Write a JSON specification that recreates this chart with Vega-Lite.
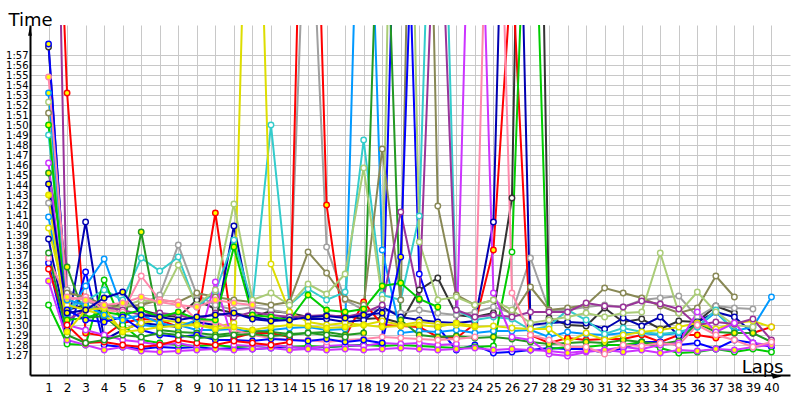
{
"$schema":"https://vega.github.io/schema/vega-lite/v6.json",
"width":760,"height":350,
"autosize":{"type":"none"},
"padding":{"left":30,"top":25,"right":10,"bottom":25},
"background":"white",
"config":{"view":{"stroke":null},"axis":{"labelFont":"DejaVu Sans","titleFont":"DejaVu Sans"}},
"datasets":{"laps":[
{"d":"BLK","l":1,"t":117.8},{"d":"BLK","l":2,"t":91.5},{"d":"BLK","l":3,"t":92},{"d":"BLK","l":4,"t":91.2},{"d":"BLK","l":5,"t":92.3},{"d":"BLK","l":6,"t":91.5},{"d":"BLK","l":7,"t":91},{"d":"BLK","l":8,"t":90.8},{"d":"BLK","l":9,"t":92.5},{"d":"BLK","l":10,"t":91.6},{"d":"BLK","l":11,"t":91.2},{"d":"BLK","l":12,"t":90.8},{"d":"BLK","l":13,"t":91.4},{"d":"BLK","l":14,"t":91.2},{"d":"BLK","l":15,"t":90.8},{"d":"BLK","l":16,"t":90.9},{"d":"BLK","l":17,"t":90.9},{"d":"BLK","l":18,"t":90.6},{"d":"BLK","l":19,"t":90.7},{"d":"BLK","l":20,"t":90.2},{"d":"BLK","l":21,"t":93.5},{"d":"BLK","l":22,"t":94.7},{"d":"BLK","l":23,"t":91.0},{"d":"BLK","l":24,"t":90.8},{"d":"BLK","l":25,"t":91.2},{"d":"BLK","l":26,"t":102.7},{"d":"BLK","l":27,"t":200},{"d":"BLK","l":28,"t":90.7},{"d":"BLK","l":29,"t":90.0},{"d":"BLK","l":30,"t":89.9},{"d":"BLK","l":31,"t":91.7},{"d":"BLK","l":32,"t":90.3},{"d":"BLK","l":33,"t":90.6},{"d":"BLK","l":34,"t":89.6},{"d":"BLK","l":35,"t":90.4},{"d":"BLK","l":36,"t":90.3},{"d":"BLK","l":37,"t":91.9},{"d":"BLK","l":38,"t":91.2},
{"d":"GRY","l":1,"t":102.2},{"d":"GRY","l":2,"t":93.5},{"d":"GRY","l":3,"t":92.5},{"d":"GRY","l":4,"t":91.5},{"d":"GRY","l":5,"t":91.8},{"d":"GRY","l":6,"t":92},{"d":"GRY","l":7,"t":93},{"d":"GRY","l":8,"t":98},{"d":"GRY","l":9,"t":93},{"d":"GRY","l":10,"t":92},{"d":"GRY","l":11,"t":91.5},{"d":"GRY","l":12,"t":91.8},{"d":"GRY","l":13,"t":91.5},{"d":"GRY","l":14,"t":91.2},{"d":"GRY","l":15,"t":140},{"d":"GRY","l":16,"t":97.8},{"d":"GRY","l":17,"t":92.5},{"d":"GRY","l":18,"t":91.5},{"d":"GRY","l":19,"t":91.5},{"d":"GRY","l":20,"t":91.2},{"d":"GRY","l":21,"t":91.5},{"d":"GRY","l":22,"t":91.2},{"d":"GRY","l":23,"t":91.0},{"d":"GRY","l":24,"t":91.3},{"d":"GRY","l":25,"t":91.8},{"d":"GRY","l":26,"t":91.2},{"d":"GRY","l":27,"t":96.7},{"d":"GRY","l":28,"t":91.5},{"d":"GRY","l":29,"t":91.5},{"d":"GRY","l":30,"t":91.8},{"d":"GRY","l":31,"t":92},{"d":"GRY","l":32,"t":91.8},{"d":"GRY","l":33,"t":92.5},{"d":"GRY","l":34,"t":92.7},{"d":"GRY","l":35,"t":92.9},{"d":"GRY","l":36,"t":90.8},{"d":"GRY","l":37,"t":91.9},{"d":"GRY","l":38,"t":91.7},{"d":"GRY","l":39,"t":91.6},
{"d":"RDY","l":1,"t":160},{"d":"RDY","l":2,"t":113.2},{"d":"RDY","l":3,"t":89.2},{"d":"RDY","l":4,"t":88.9},{"d":"RDY","l":5,"t":90.2},{"d":"RDY","l":6,"t":90.6},{"d":"RDY","l":7,"t":90.5},{"d":"RDY","l":8,"t":89.8},{"d":"RDY","l":9,"t":90.2},{"d":"RDY","l":10,"t":101.2},{"d":"RDY","l":11,"t":88.7},{"d":"RDY","l":12,"t":89.2},{"d":"RDY","l":13,"t":89.2},{"d":"RDY","l":14,"t":88.8},{"d":"RDY","l":15,"t":165},{"d":"RDY","l":16,"t":102},{"d":"RDY","l":17,"t":88.8},{"d":"RDY","l":18,"t":92.3},{"d":"RDY","l":19,"t":90.0},{"d":"RDY","l":20,"t":89.9},{"d":"RDY","l":21,"t":89.8},{"d":"RDY","l":22,"t":88.8},{"d":"RDY","l":23,"t":88.7},{"d":"RDY","l":24,"t":90.1},{"d":"RDY","l":25,"t":97.5},{"d":"RDY","l":26,"t":126},{"d":"RDY","l":27,"t":89.0},{"d":"RDY","l":28,"t":88.2},{"d":"RDY","l":29,"t":88.7},{"d":"RDY","l":30,"t":88.5},{"d":"RDY","l":31,"t":88.6},{"d":"RDY","l":32,"t":88.6},{"d":"RDY","l":33,"t":89.0},{"d":"RDY","l":34,"t":88.3},{"d":"RDY","l":35,"t":89.0},{"d":"RDY","l":36,"t":89.0},{"d":"RDY","l":37,"t":88.7},{"d":"RDY","l":38,"t":89.2},{"d":"RDY","l":39,"t":89.2},{"d":"RDY","l":40,"t":89.8},
{"d":"NVY","l":1,"t":98.6},{"d":"NVY","l":2,"t":89.5},{"d":"NVY","l":3,"t":100.3},{"d":"NVY","l":4,"t":88.5},{"d":"NVY","l":5,"t":89.5},{"d":"NVY","l":6,"t":90.2},{"d":"NVY","l":7,"t":90.0},{"d":"NVY","l":8,"t":89.8},{"d":"NVY","l":9,"t":90.3},{"d":"NVY","l":10,"t":90.0},{"d":"NVY","l":11,"t":99.9},{"d":"NVY","l":12,"t":90.8},{"d":"NVY","l":13,"t":90.5},{"d":"NVY","l":14,"t":90.8},{"d":"NVY","l":15,"t":90.6},{"d":"NVY","l":16,"t":90.6},{"d":"NVY","l":17,"t":90.3},{"d":"NVY","l":18,"t":90.5},{"d":"NVY","l":19,"t":91.8},{"d":"NVY","l":20,"t":90.8},{"d":"NVY","l":21,"t":90.5},{"d":"NVY","l":22,"t":90.3},{"d":"NVY","l":23,"t":90.2},{"d":"NVY","l":24,"t":90.4},{"d":"NVY","l":25,"t":100.3},{"d":"NVY","l":26,"t":170},{"d":"NVY","l":27,"t":90.0},{"d":"NVY","l":28,"t":90.2},{"d":"NVY","l":29,"t":90.3},{"d":"NVY","l":30,"t":90.2},{"d":"NVY","l":31,"t":89.6},{"d":"NVY","l":32,"t":90.7},{"d":"NVY","l":33,"t":89.9},{"d":"NVY","l":34,"t":90.8},{"d":"NVY","l":35,"t":88.9},{"d":"NVY","l":36,"t":90.3},{"d":"NVY","l":37,"t":91.3},{"d":"NVY","l":38,"t":90.8},{"d":"NVY","l":39,"t":89.2},
{"d":"BLW","l":1,"t":96.2},{"d":"BLW","l":2,"t":88.3},{"d":"BLW","l":3,"t":95.3},{"d":"BLW","l":4,"t":88.0},{"d":"BLW","l":5,"t":87.8},{"d":"BLW","l":6,"t":87.6},{"d":"BLW","l":7,"t":87.8},{"d":"BLW","l":8,"t":87.7},{"d":"BLW","l":9,"t":87.8},{"d":"BLW","l":10,"t":87.6},{"d":"BLW","l":11,"t":87.7},{"d":"BLW","l":12,"t":87.6},{"d":"BLW","l":13,"t":87.7},{"d":"BLW","l":14,"t":87.8},{"d":"BLW","l":15,"t":87.7},{"d":"BLW","l":16,"t":87.8},{"d":"BLW","l":17,"t":87.9},{"d":"BLW","l":18,"t":88.0},{"d":"BLW","l":19,"t":88.0},{"d":"BLW","l":20,"t":155},{"d":"BLW","l":21,"t":95.1},{"d":"BLW","l":22,"t":89.8},{"d":"BLW","l":23,"t":87.5},{"d":"BLW","l":24,"t":88.0},{"d":"BLW","l":25,"t":87.2},{"d":"BLW","l":26,"t":87.3},{"d":"BLW","l":27,"t":87.5},{"d":"BLW","l":28,"t":87.7},{"d":"BLW","l":29,"t":87.6},{"d":"BLW","l":30,"t":87.6},{"d":"BLW","l":31,"t":87.2},{"d":"BLW","l":32,"t":87.7},{"d":"BLW","l":33,"t":88.3},{"d":"BLW","l":34,"t":88.3},{"d":"BLW","l":35,"t":88.0},{"d":"BLW","l":36,"t":88.2},{"d":"BLW","l":37,"t":87.6},{"d":"BLW","l":38,"t":88.5},{"d":"BLW","l":39,"t":88.2},{"d":"BLW","l":40,"t":87.8},
{"d":"LBW","l":1,"t":100.8},{"d":"LBW","l":2,"t":91.0},{"d":"LBW","l":3,"t":93.9},{"d":"LBW","l":4,"t":96.6},{"d":"LBW","l":5,"t":91.5},{"d":"LBW","l":6,"t":90.0},{"d":"LBW","l":7,"t":89.8},{"d":"LBW","l":8,"t":90.0},{"d":"LBW","l":9,"t":89.5},{"d":"LBW","l":10,"t":89.5},{"d":"LBW","l":11,"t":89.6},{"d":"LBW","l":12,"t":89.3},{"d":"LBW","l":13,"t":89.5},{"d":"LBW","l":14,"t":89.7},{"d":"LBW","l":15,"t":89.8},{"d":"LBW","l":16,"t":89.5},{"d":"LBW","l":17,"t":89.6},{"d":"LBW","l":18,"t":155},{"d":"LBW","l":19,"t":97.5},{"d":"LBW","l":20,"t":89.2},{"d":"LBW","l":21,"t":89.4},{"d":"LBW","l":22,"t":89.3},{"d":"LBW","l":23,"t":89.5},{"d":"LBW","l":24,"t":89.2},{"d":"LBW","l":25,"t":89.4},{"d":"LBW","l":26,"t":89.4},{"d":"LBW","l":27,"t":89.5},{"d":"LBW","l":28,"t":88.8},{"d":"LBW","l":29,"t":89.3},{"d":"LBW","l":30,"t":89.1},{"d":"LBW","l":31,"t":89.0},{"d":"LBW","l":32,"t":89.2},{"d":"LBW","l":33,"t":89.2},{"d":"LBW","l":34,"t":89.0},{"d":"LBW","l":35,"t":89.2},{"d":"LBW","l":36,"t":89.8},{"d":"LBW","l":37,"t":91.3},{"d":"LBW","l":38,"t":89.4},{"d":"LBW","l":39,"t":89.8},{"d":"LBW","l":40,"t":92.8},
{"d":"CYN","l":1,"t":109},{"d":"CYN","l":2,"t":91.8},{"d":"CYN","l":3,"t":92.4},{"d":"CYN","l":4,"t":93.5},{"d":"CYN","l":5,"t":92.5},{"d":"CYN","l":6,"t":96.7},{"d":"CYN","l":7,"t":95.4},{"d":"CYN","l":8,"t":96.8},{"d":"CYN","l":9,"t":91.8},{"d":"CYN","l":10,"t":93.3},{"d":"CYN","l":11,"t":98.5},{"d":"CYN","l":12,"t":92.0},{"d":"CYN","l":13,"t":110},{"d":"CYN","l":14,"t":92.0},{"d":"CYN","l":15,"t":93.6},{"d":"CYN","l":16,"t":92.5},{"d":"CYN","l":17,"t":93.3},{"d":"CYN","l":18,"t":108.5},{"d":"CYN","l":19,"t":93.0},{"d":"CYN","l":20,"t":92.5},{"d":"CYN","l":21,"t":100.9},{"d":"CYN","l":22,"t":160},{"d":"CYN","l":23,"t":91.5},{"d":"CYN","l":24,"t":90.5},{"d":"CYN","l":25,"t":90.8},{"d":"CYN","l":26,"t":90.6},{"d":"CYN","l":27,"t":89.5},{"d":"CYN","l":28,"t":89.9},{"d":"CYN","l":29,"t":91.5},{"d":"CYN","l":30,"t":90.5},{"d":"CYN","l":31,"t":89.1},{"d":"CYN","l":32,"t":89.7},{"d":"CYN","l":33,"t":89.3},{"d":"CYN","l":34,"t":89.1},{"d":"CYN","l":35,"t":89.3},{"d":"CYN","l":36,"t":89.8},{"d":"CYN","l":37,"t":91.5},{"d":"CYN","l":38,"t":89.3},
{"d":"GRW","l":1,"t":92.0},{"d":"GRW","l":2,"t":88.1},{"d":"GRW","l":3,"t":88.0},{"d":"GRW","l":4,"t":94.5},{"d":"GRW","l":5,"t":90.0},{"d":"GRW","l":6,"t":88.5},{"d":"GRW","l":7,"t":88.2},{"d":"GRW","l":8,"t":88.0},{"d":"GRW","l":9,"t":87.9},{"d":"GRW","l":10,"t":88.0},{"d":"GRW","l":11,"t":87.8},{"d":"GRW","l":12,"t":87.9},{"d":"GRW","l":13,"t":88.0},{"d":"GRW","l":14,"t":87.8},{"d":"GRW","l":15,"t":87.9},{"d":"GRW","l":16,"t":87.8},{"d":"GRW","l":17,"t":87.9},{"d":"GRW","l":18,"t":88.0},{"d":"GRW","l":19,"t":87.9},{"d":"GRW","l":20,"t":88.0},{"d":"GRW","l":21,"t":87.9},{"d":"GRW","l":22,"t":87.8},{"d":"GRW","l":23,"t":87.7},{"d":"GRW","l":24,"t":87.8},{"d":"GRW","l":25,"t":87.9},{"d":"GRW","l":26,"t":97.3},{"d":"GRW","l":27,"t":148},{"d":"GRW","l":28,"t":87.6},{"d":"GRW","l":29,"t":87.8},{"d":"GRW","l":30,"t":87.8},{"d":"GRW","l":31,"t":88.0},{"d":"GRW","l":32,"t":88.0},{"d":"GRW","l":33,"t":88.3},{"d":"GRW","l":34,"t":87.7},{"d":"GRW","l":35,"t":87.2},{"d":"GRW","l":36,"t":87.3},{"d":"GRW","l":37,"t":87.6},{"d":"GRW","l":38,"t":87.3},{"d":"GRW","l":39,"t":87.6},{"d":"GRW","l":40,"t":87.3},
{"d":"DGY","l":1,"t":105.2},{"d":"DGY","l":2,"t":95.8},{"d":"DGY","l":3,"t":90.7},{"d":"DGY","l":4,"t":90.9},{"d":"DGY","l":5,"t":89.3},{"d":"DGY","l":6,"t":99.3},{"d":"DGY","l":7,"t":89.5},{"d":"DGY","l":8,"t":89.3},{"d":"DGY","l":9,"t":89.2},{"d":"DGY","l":10,"t":89.0},{"d":"DGY","l":11,"t":89.2},{"d":"DGY","l":12,"t":89.4},{"d":"DGY","l":13,"t":89.3},{"d":"DGY","l":14,"t":89.1},{"d":"DGY","l":15,"t":89.2},{"d":"DGY","l":16,"t":89.3},{"d":"DGY","l":17,"t":89.0},{"d":"DGY","l":18,"t":89.2},{"d":"DGY","l":19,"t":145},{"d":"DGY","l":20,"t":90.5},{"d":"DGY","l":21,"t":89.0},{"d":"DGY","l":22,"t":88.8},{"d":"DGY","l":23,"t":88.9},{"d":"DGY","l":24,"t":88.7},{"d":"DGY","l":25,"t":88.8},{"d":"DGY","l":26,"t":88.6},{"d":"DGY","l":27,"t":88.3},{"d":"DGY","l":28,"t":88.1},{"d":"DGY","l":29,"t":88.2},{"d":"DGY","l":30,"t":88.3},{"d":"DGY","l":31,"t":88.2},{"d":"DGY","l":32,"t":88.5},{"d":"DGY","l":33,"t":88.3},{"d":"DGY","l":34,"t":88.1},{"d":"DGY","l":35,"t":88.4},{"d":"DGY","l":36,"t":90.2},{"d":"DGY","l":37,"t":89.3},{"d":"DGY","l":38,"t":89.2},{"d":"DGY","l":39,"t":89.2},{"d":"DGY","l":40,"t":88.3},
{"d":"YLW","l":1,"t":99.7},{"d":"YLW","l":2,"t":92.0},{"d":"YLW","l":3,"t":91.5},{"d":"YLW","l":4,"t":91.0},{"d":"YLW","l":5,"t":89.5},{"d":"YLW","l":6,"t":90.2},{"d":"YLW","l":7,"t":90.5},{"d":"YLW","l":8,"t":90.3},{"d":"YLW","l":9,"t":90.0},{"d":"YLW","l":10,"t":89.8},{"d":"YLW","l":11,"t":90.2},{"d":"YLW","l":12,"t":160},{"d":"YLW","l":13,"t":96.1},{"d":"YLW","l":14,"t":91.3},{"d":"YLW","l":15,"t":90.3},{"d":"YLW","l":16,"t":90.0},{"d":"YLW","l":17,"t":90.2},{"d":"YLW","l":18,"t":90.0},{"d":"YLW","l":19,"t":90.4},{"d":"YLW","l":20,"t":90.0},{"d":"YLW","l":21,"t":90.3},{"d":"YLW","l":22,"t":90.1},{"d":"YLW","l":23,"t":90.0},{"d":"YLW","l":24,"t":89.8},{"d":"YLW","l":25,"t":89.9},{"d":"YLW","l":26,"t":89.7},{"d":"YLW","l":27,"t":89.6},{"d":"YLW","l":28,"t":89.6},{"d":"YLW","l":29,"t":88.3},{"d":"YLW","l":30,"t":89.2},{"d":"YLW","l":31,"t":88.5},{"d":"YLW","l":32,"t":89.0},{"d":"YLW","l":33,"t":89.3},{"d":"YLW","l":34,"t":89.5},{"d":"YLW","l":35,"t":89.8},{"d":"YLW","l":36,"t":90.2},{"d":"YLW","l":37,"t":89.6},{"d":"YLW","l":38,"t":90.2},{"d":"YLW","l":39,"t":90.4},{"d":"YLW","l":40,"t":89.8},
{"d":"OLV","l":1,"t":111.2},{"d":"OLV","l":2,"t":93.2},{"d":"OLV","l":3,"t":92.8},{"d":"OLV","l":4,"t":92.0},{"d":"OLV","l":5,"t":91.8},{"d":"OLV","l":6,"t":92.0},{"d":"OLV","l":7,"t":92.5},{"d":"OLV","l":8,"t":92.3},{"d":"OLV","l":9,"t":93.2},{"d":"OLV","l":10,"t":92.8},{"d":"OLV","l":11,"t":92.5},{"d":"OLV","l":12,"t":92.3},{"d":"OLV","l":13,"t":92.0},{"d":"OLV","l":14,"t":92.3},{"d":"OLV","l":15,"t":97.3},{"d":"OLV","l":16,"t":95.2},{"d":"OLV","l":17,"t":92.6},{"d":"OLV","l":18,"t":92.0},{"d":"OLV","l":19,"t":107.6},{"d":"OLV","l":20,"t":92.5},{"d":"OLV","l":21,"t":185},{"d":"OLV","l":22,"t":101.9},{"d":"OLV","l":23,"t":93.0},{"d":"OLV","l":24,"t":92.0},{"d":"OLV","l":25,"t":92.5},{"d":"OLV","l":26,"t":91.0},{"d":"OLV","l":27,"t":93.8},{"d":"OLV","l":28,"t":91.5},{"d":"OLV","l":29,"t":91.7},{"d":"OLV","l":30,"t":92.0},{"d":"OLV","l":31,"t":93.7},{"d":"OLV","l":32,"t":93.2},{"d":"OLV","l":33,"t":92.7},{"d":"OLV","l":34,"t":91.9},{"d":"OLV","l":35,"t":91.2},{"d":"OLV","l":36,"t":91.7},{"d":"OLV","l":37,"t":94.9},{"d":"OLV","l":38,"t":92.8},
{"d":"LOL","l":1,"t":112.3},{"d":"LOL","l":2,"t":92.5},{"d":"LOL","l":3,"t":92.0},{"d":"LOL","l":4,"t":91.5},{"d":"LOL","l":5,"t":91.8},{"d":"LOL","l":6,"t":92.5},{"d":"LOL","l":7,"t":92.3},{"d":"LOL","l":8,"t":96.0},{"d":"LOL","l":9,"t":92.0},{"d":"LOL","l":10,"t":93.5},{"d":"LOL","l":11,"t":102.1},{"d":"LOL","l":12,"t":92.5},{"d":"LOL","l":13,"t":93.2},{"d":"LOL","l":14,"t":92.0},{"d":"LOL","l":15,"t":94.1},{"d":"LOL","l":16,"t":93.1},{"d":"LOL","l":17,"t":95.1},{"d":"LOL","l":18,"t":105.7},{"d":"LOL","l":19,"t":92.6},{"d":"LOL","l":20,"t":190},{"d":"LOL","l":21,"t":98.3},{"d":"LOL","l":22,"t":92.5},{"d":"LOL","l":23,"t":92.8},{"d":"LOL","l":24,"t":92.0},{"d":"LOL","l":25,"t":92.5},{"d":"LOL","l":26,"t":91.5},{"d":"LOL","l":27,"t":90.2},{"d":"LOL","l":28,"t":90.5},{"d":"LOL","l":29,"t":90.8},{"d":"LOL","l":30,"t":91.2},{"d":"LOL","l":31,"t":90.8},{"d":"LOL","l":32,"t":91.2},{"d":"LOL","l":33,"t":91.3},{"d":"LOL","l":34,"t":97.2},{"d":"LOL","l":35,"t":91.2},{"d":"LOL","l":36,"t":93.3},{"d":"LOL","l":37,"t":91.3},{"d":"LOL","l":38,"t":90.0},{"d":"LOL","l":39,"t":89.8},
{"d":"PRP","l":1,"t":180},{"d":"PRP","l":2,"t":90.5},{"d":"PRP","l":3,"t":91.5},{"d":"PRP","l":4,"t":91.8},{"d":"PRP","l":5,"t":91.5},{"d":"PRP","l":6,"t":91.0},{"d":"PRP","l":7,"t":91.2},{"d":"PRP","l":8,"t":91.0},{"d":"PRP","l":9,"t":90.5},{"d":"PRP","l":10,"t":91.2},{"d":"PRP","l":11,"t":90.8},{"d":"PRP","l":12,"t":91.3},{"d":"PRP","l":13,"t":91.0},{"d":"PRP","l":14,"t":90.8},{"d":"PRP","l":15,"t":90.9},{"d":"PRP","l":16,"t":91.0},{"d":"PRP","l":17,"t":90.8},{"d":"PRP","l":18,"t":91.2},{"d":"PRP","l":19,"t":92.0},{"d":"PRP","l":20,"t":101.3},{"d":"PRP","l":21,"t":92.5},{"d":"PRP","l":22,"t":140},{"d":"PRP","l":23,"t":91.5},{"d":"PRP","l":24,"t":90.8},{"d":"PRP","l":25,"t":91.0},{"d":"PRP","l":26,"t":90.8},{"d":"PRP","l":27,"t":91.3},{"d":"PRP","l":28,"t":91.3},{"d":"PRP","l":29,"t":91.3},{"d":"PRP","l":30,"t":92.2},{"d":"PRP","l":31,"t":91.9},{"d":"PRP","l":32,"t":91.8},{"d":"PRP","l":33,"t":92.4},{"d":"PRP","l":34,"t":92.1},{"d":"PRP","l":35,"t":91.6},{"d":"PRP","l":36,"t":90.0},{"d":"PRP","l":37,"t":90.3},{"d":"PRP","l":38,"t":90.1},{"d":"PRP","l":39,"t":90.6},{"d":"PRP","l":40,"t":88.5},
{"d":"MGW","l":1,"t":106.2},{"d":"MGW","l":2,"t":90.0},{"d":"MGW","l":3,"t":89.5},{"d":"MGW","l":4,"t":89.0},{"d":"MGW","l":5,"t":88.5},{"d":"MGW","l":6,"t":88.3},{"d":"MGW","l":7,"t":88.0},{"d":"MGW","l":8,"t":88.2},{"d":"MGW","l":9,"t":87.8},{"d":"MGW","l":10,"t":94.3},{"d":"MGW","l":11,"t":88.0},{"d":"MGW","l":12,"t":87.9},{"d":"MGW","l":13,"t":88.0},{"d":"MGW","l":14,"t":87.8},{"d":"MGW","l":15,"t":87.7},{"d":"MGW","l":16,"t":87.9},{"d":"MGW","l":17,"t":88.0},{"d":"MGW","l":18,"t":87.9},{"d":"MGW","l":19,"t":88.2},{"d":"MGW","l":20,"t":88.1},{"d":"MGW","l":21,"t":88.2},{"d":"MGW","l":22,"t":88.0},{"d":"MGW","l":23,"t":88.1},{"d":"MGW","l":24,"t":155},{"d":"MGW","l":25,"t":93.2},{"d":"MGW","l":26,"t":88.8},{"d":"MGW","l":27,"t":88.5},{"d":"MGW","l":28,"t":87.1},{"d":"MGW","l":29,"t":86.9},{"d":"MGW","l":30,"t":87.3},{"d":"MGW","l":31,"t":87.5},{"d":"MGW","l":32,"t":87.8},{"d":"MGW","l":33,"t":87.6},{"d":"MGW","l":34,"t":88.0},{"d":"MGW","l":35,"t":88.2},{"d":"MGW","l":36,"t":91.3},{"d":"MGW","l":37,"t":89.3},{"d":"MGW","l":38,"t":90.2},{"d":"MGW","l":39,"t":88.2},{"d":"MGW","l":40,"t":88.0},
{"d":"MGY","l":1,"t":94.4},{"d":"MGY","l":2,"t":88.5},{"d":"MGY","l":3,"t":88.0},{"d":"MGY","l":4,"t":87.5},{"d":"MGY","l":5,"t":87.8},{"d":"MGY","l":6,"t":87.4},{"d":"MGY","l":7,"t":87.3},{"d":"MGY","l":8,"t":87.4},{"d":"MGY","l":9,"t":87.5},{"d":"MGY","l":10,"t":87.6},{"d":"MGY","l":11,"t":87.5},{"d":"MGY","l":12,"t":87.6},{"d":"MGY","l":13,"t":87.7},{"d":"MGY","l":14,"t":87.5},{"d":"MGY","l":15,"t":87.6},{"d":"MGY","l":16,"t":87.5},{"d":"MGY","l":17,"t":87.6},{"d":"MGY","l":18,"t":87.5},{"d":"MGY","l":19,"t":87.6},{"d":"MGY","l":20,"t":87.7},{"d":"MGY","l":21,"t":87.6},{"d":"MGY","l":22,"t":87.5},{"d":"MGY","l":23,"t":87.6},{"d":"MGY","l":24,"t":87.7},{"d":"MGY","l":25,"t":87.5},{"d":"MGY","l":26,"t":87.6},{"d":"MGY","l":27,"t":87.5},{"d":"MGY","l":28,"t":87.4},{"d":"MGY","l":29,"t":87.2},{"d":"MGY","l":30,"t":87.4},{"d":"MGY","l":31,"t":87.5},{"d":"MGY","l":32,"t":87.3},{"d":"MGY","l":33,"t":87.5},{"d":"MGY","l":34,"t":87.2},{"d":"MGY","l":35,"t":87.5},{"d":"MGY","l":36,"t":87.4},{"d":"MGY","l":37,"t":87.6},{"d":"MGY","l":38,"t":87.5},{"d":"MGY","l":39,"t":87.8},{"d":"MGY","l":40,"t":88.0},
{"d":"PNW","l":1,"t":96.7},{"d":"PNW","l":2,"t":92.5},{"d":"PNW","l":3,"t":92.8},{"d":"PNW","l":4,"t":91.5},{"d":"PNW","l":5,"t":91.3},{"d":"PNW","l":6,"t":94.9},{"d":"PNW","l":7,"t":92.5},{"d":"PNW","l":8,"t":92.3},{"d":"PNW","l":9,"t":90.5},{"d":"PNW","l":10,"t":90.3},{"d":"PNW","l":11,"t":89.5},{"d":"PNW","l":12,"t":89.0},{"d":"PNW","l":13,"t":88.7},{"d":"PNW","l":14,"t":88.5},{"d":"PNW","l":15,"t":88.5},{"d":"PNW","l":16,"t":88.3},{"d":"PNW","l":17,"t":88.5},{"d":"PNW","l":18,"t":88.6},{"d":"PNW","l":19,"t":88.8},{"d":"PNW","l":20,"t":88.7},{"d":"PNW","l":21,"t":88.6},{"d":"PNW","l":22,"t":88.5},{"d":"PNW","l":23,"t":88.6},{"d":"PNW","l":24,"t":88.8},{"d":"PNW","l":25,"t":160},{"d":"PNW","l":26,"t":93.2},{"d":"PNW","l":27,"t":89.0},{"d":"PNW","l":28,"t":88.5},{"d":"PNW","l":29,"t":87.8},{"d":"PNW","l":30,"t":87.8},{"d":"PNW","l":31,"t":87.1},{"d":"PNW","l":32,"t":88.0},{"d":"PNW","l":33,"t":87.9},{"d":"PNW","l":34,"t":88.2},{"d":"PNW","l":35,"t":88.0},{"d":"PNW","l":36,"t":90.0},{"d":"PNW","l":37,"t":89.0},{"d":"PNW","l":38,"t":88.5},{"d":"PNW","l":39,"t":87.8},{"d":"PNW","l":40,"t":88.3},
{"d":"GNY","l":1,"t":110},{"d":"GNY","l":2,"t":90.5},{"d":"GNY","l":3,"t":90.7},{"d":"GNY","l":4,"t":91.3},{"d":"GNY","l":5,"t":91.0},{"d":"GNY","l":6,"t":91.5},{"d":"GNY","l":7,"t":90.8},{"d":"GNY","l":8,"t":91.3},{"d":"GNY","l":9,"t":90.6},{"d":"GNY","l":10,"t":90.5},{"d":"GNY","l":11,"t":97.8},{"d":"GNY","l":12,"t":91.0},{"d":"GNY","l":13,"t":90.8},{"d":"GNY","l":14,"t":90.5},{"d":"GNY","l":15,"t":93.0},{"d":"GNY","l":16,"t":91.5},{"d":"GNY","l":17,"t":91.3},{"d":"GNY","l":18,"t":91.6},{"d":"GNY","l":19,"t":93.9},{"d":"GNY","l":20,"t":94.2},{"d":"GNY","l":21,"t":92.6},{"d":"GNY","l":22,"t":91.8},
{"d":"BLY","l":1,"t":118.1},{"d":"BLY","l":2,"t":91.5},{"d":"BLY","l":3,"t":90.5},{"d":"BLY","l":4,"t":90.3},{"d":"BLY","l":5,"t":90.8},{"d":"BLY","l":6,"t":89.5},{"d":"BLY","l":7,"t":89.0},{"d":"BLY","l":8,"t":88.8},{"d":"BLY","l":9,"t":89.0},{"d":"BLY","l":10,"t":88.5},{"d":"BLY","l":11,"t":88.5},{"d":"BLY","l":12,"t":88.4},{"d":"BLY","l":13,"t":88.6},{"d":"BLY","l":14,"t":88.5},{"d":"BLY","l":15,"t":88.4},{"d":"BLY","l":16,"t":88.6},{"d":"BLY","l":17,"t":88.3},{"d":"BLY","l":18,"t":88.5},{"d":"BLY","l":19,"t":88.2},{"d":"BLY","l":20,"t":96.8},{"d":"BLY","l":21,"t":150},
{"d":"RDW","l":1,"t":95.6},{"d":"RDW","l":2,"t":90.0},{"d":"RDW","l":3,"t":88.2},{"d":"RDW","l":4,"t":88.3},{"d":"RDW","l":5,"t":88.0},{"d":"RDW","l":6,"t":87.8},{"d":"RDW","l":7,"t":88.0},{"d":"RDW","l":8,"t":88.5},{"d":"RDW","l":9,"t":88.2},{"d":"RDW","l":10,"t":88.0},{"d":"RDW","l":11,"t":88.4},{"d":"RDW","l":12,"t":88.2},{"d":"RDW","l":13,"t":88.0},{"d":"RDW","l":14,"t":88.3},
{"d":"LBY","l":1,"t":113.2},{"d":"LBY","l":2,"t":92.5},{"d":"LBY","l":3,"t":92.0},{"d":"LBY","l":4,"t":91.0},{"d":"LBY","l":5,"t":90.5},{"d":"LBY","l":6,"t":91.0},{"d":"LBY","l":7,"t":90.2},{"d":"LBY","l":8,"t":89.8},{"d":"LBY","l":9,"t":90.5},
{"d":"DGW","l":1,"t":97.2},{"d":"DGW","l":2,"t":89.0},{"d":"DGW","l":3,"t":88.2},{"d":"DGW","l":4,"t":88.5},{"d":"DGW","l":5,"t":89.0},{"d":"DGW","l":6,"t":88.8},{"d":"DGW","l":7,"t":89.2},{"d":"DGW","l":8,"t":89.0},{"d":"DGW","l":9,"t":88.7},{"d":"DGW","l":10,"t":88.8},{"d":"DGW","l":11,"t":89.0},{"d":"DGW","l":12,"t":89.1},{"d":"DGW","l":13,"t":88.9},{"d":"DGW","l":14,"t":89.0},{"d":"DGW","l":15,"t":89.2},{"d":"DGW","l":16,"t":89.0},{"d":"DGW","l":17,"t":88.8},
{"d":"YLY","l":1,"t":103},{"d":"YLY","l":2,"t":89.3},{"d":"YLY","l":3,"t":91.5},{"d":"YLY","l":4,"t":91.7},{"d":"YLY","l":5,"t":89.3},{"d":"YLY","l":6,"t":89.5},{"d":"YLY","l":7,"t":89.8},{"d":"YLY","l":8,"t":89.9},{"d":"YLY","l":9,"t":90.0},{"d":"YLY","l":10,"t":89.6},{"d":"YLY","l":11,"t":89.8},{"d":"YLY","l":12,"t":89.5},{"d":"YLY","l":13,"t":89.8},{"d":"YLY","l":14,"t":90.0},{"d":"YLY","l":15,"t":89.9},{"d":"YLY","l":16,"t":89.7},{"d":"YLY","l":17,"t":89.8},{"d":"YLY","l":18,"t":90.0},{"d":"YLY","l":19,"t":89.8},{"d":"YLY","l":20,"t":89.9},{"d":"YLY","l":21,"t":90.0},{"d":"YLY","l":22,"t":89.8},{"d":"YLY","l":23,"t":90.2},{"d":"YLY","l":24,"t":89.9},
{"d":"PNY","l":1,"t":114.8},{"d":"PNY","l":2,"t":92.8},{"d":"PNY","l":3,"t":92.5},{"d":"PNY","l":4,"t":92.0},{"d":"PNY","l":5,"t":92.2},{"d":"PNY","l":6,"t":92.8},{"d":"PNY","l":7,"t":92.3},{"d":"PNY","l":8,"t":92.0},{"d":"PNY","l":9,"t":91.8},{"d":"PNY","l":10,"t":92.5},{"d":"PNY","l":11,"t":92.2},{"d":"PNY","l":12,"t":92.0},
{"d":"NV2","l":1,"t":104.1},{"d":"NV2","l":2,"t":91.2},{"d":"NV2","l":3,"t":91.5},{"d":"NV2","l":4,"t":92.7},{"d":"NV2","l":5,"t":93.3},{"d":"NV2","l":6,"t":91.0},{"d":"NV2","l":7,"t":90.8},{"d":"NV2","l":8,"t":90.5},{"d":"NV2","l":9,"t":90.8},{"d":"NV2","l":10,"t":91.0},{"d":"NV2","l":11,"t":91.2},{"d":"NV2","l":12,"t":90.6},{"d":"NV2","l":13,"t":90.4},{"d":"NV2","l":14,"t":90.5},{"d":"NV2","l":15,"t":90.8},{"d":"NV2","l":16,"t":90.9},{"d":"NV2","l":17,"t":90.7},{"d":"NV2","l":18,"t":91.0},{"d":"NV2","l":19,"t":91.2}
]},
"encoding":{
 "x":{"field":"l","type":"quantitative","scale":{"domain":[0,41],"nice":false,"zero":false},
  "axis":{"values":[1,2,3,4,5,6,7,8,9,10,11,12,13,14,15,16,17,18,19,20,21,22,23,24,25,26,27,28,29,30,31,32,33,34,35,36,37,38,39,40],
   "title":"Laps","titleX":753,"titleY":-3,"titleAlign":"right","titleBaseline":"alphabetic","titleFontSize":18,"titleFontWeight":"normal","titleColor":"black",
   "labelFontSize":12,"labelColor":"black","labelPadding":7,"labelOverlap":false,"labelFlush":false,"ticks":false,
   "domainColor":"black","domainWidth":2,"grid":true,"gridColor":"#c8c8c8","gridWidth":1}},
 "y":{"field":"t","type":"quantitative","scale":{"domain":[85,120],"nice":false,"zero":false},
  "axis":{"values":[87,88,89,90,91,92,93,94,95,96,97,98,99,100,101,102,103,104,105,106,107,108,109,110,111,112,113,114,115,116,117],
   "labelExpr":"floor(datum.value/60) + ':' + (datum.value % 60 < 10 ? '0' : '') + (datum.value % 60)",
   "title":"Time","titleAngle":0,"titleX":-22,"titleY":0,"titleAlign":"left","titleBaseline":"alphabetic","titleFontSize":18,"titleFontWeight":"normal","titleColor":"black",
   "labelFontSize":10,"labelColor":"black","labelPadding":2,"labelOverlap":false,"labelFlush":false,"ticks":false,
   "domainColor":"black","domainWidth":2,"grid":true,"gridColor":"#c8c8c8","gridWidth":1}}
},
"layer":[
 {"data":{"name":"laps"},
  "encoding":{
   "stroke":{"field":"d","type":"nominal","legend":null,
    "scale":{"domain":["BLK","GRY","RDY","RDW","NVY","NV2","BLW","BLY","LBW","LBY","CYN","GRW","GNY","DGY","DGW","YLW","YLY","OLV","LOL","PRP","MGW","MGY","PNW","PNY"],
     "range":["#333333","#a0a0a0","#ff0000","#ff0000","#0000b0","#0000b0","#0000ff","#0000ff","#0099ff","#0099ff","#33cccc","#00cc00","#00cc00","#229922","#229922","#dddd00","#dddd00","#888855","#aacc77","#993399","#cc33ff","#cc33ff","#ff88aa","#ff88aa"]}}
  },
  "layer":[
   {"mark":{"type":"line","strokeWidth":2,"clip":true}},
   {"mark":{"type":"point","shape":"circle","size":30,"strokeWidth":1.4,"filled":true,"opacity":1,"clip":true},
    "encoding":{"fill":{"field":"d","type":"nominal","legend":null,
     "scale":{"domain":["BLK","GRY","RDY","RDW","NVY","NV2","BLW","BLY","LBW","LBY","CYN","GRW","GNY","DGY","DGW","YLW","YLY","OLV","LOL","PRP","MGW","MGY","PNW","PNY"],
      "range":["#ffffff","#ffffff","#ffff00","#ffffff","#ffffff","#ffff00","#ffffff","#ffff00","#ffffff","#ffff00","#ffffff","#ffffff","#ffff00","#ffff00","#ffffff","#ffffff","#ffff00","#ffffff","#ffffff","#ffffff","#ffffff","#ffff00","#ffffff","#ffff00"]}}}}
  ]
 },
 {"data":{"values":[{"l":0,"t":119.4}]},
  "mark":{"type":"point","shape":"M-0.4,1L0,-1L0.4,1Z","size":90,"filled":true,"color":"black","opacity":1}},
 {"data":{"values":[{"l":40.25,"t":85}]},
  "mark":{"type":"point","shape":"M-1,-0.5L1,0.3L-0.6,0.7Z","size":110,"filled":true,"color":"black","opacity":1}}
]
}
